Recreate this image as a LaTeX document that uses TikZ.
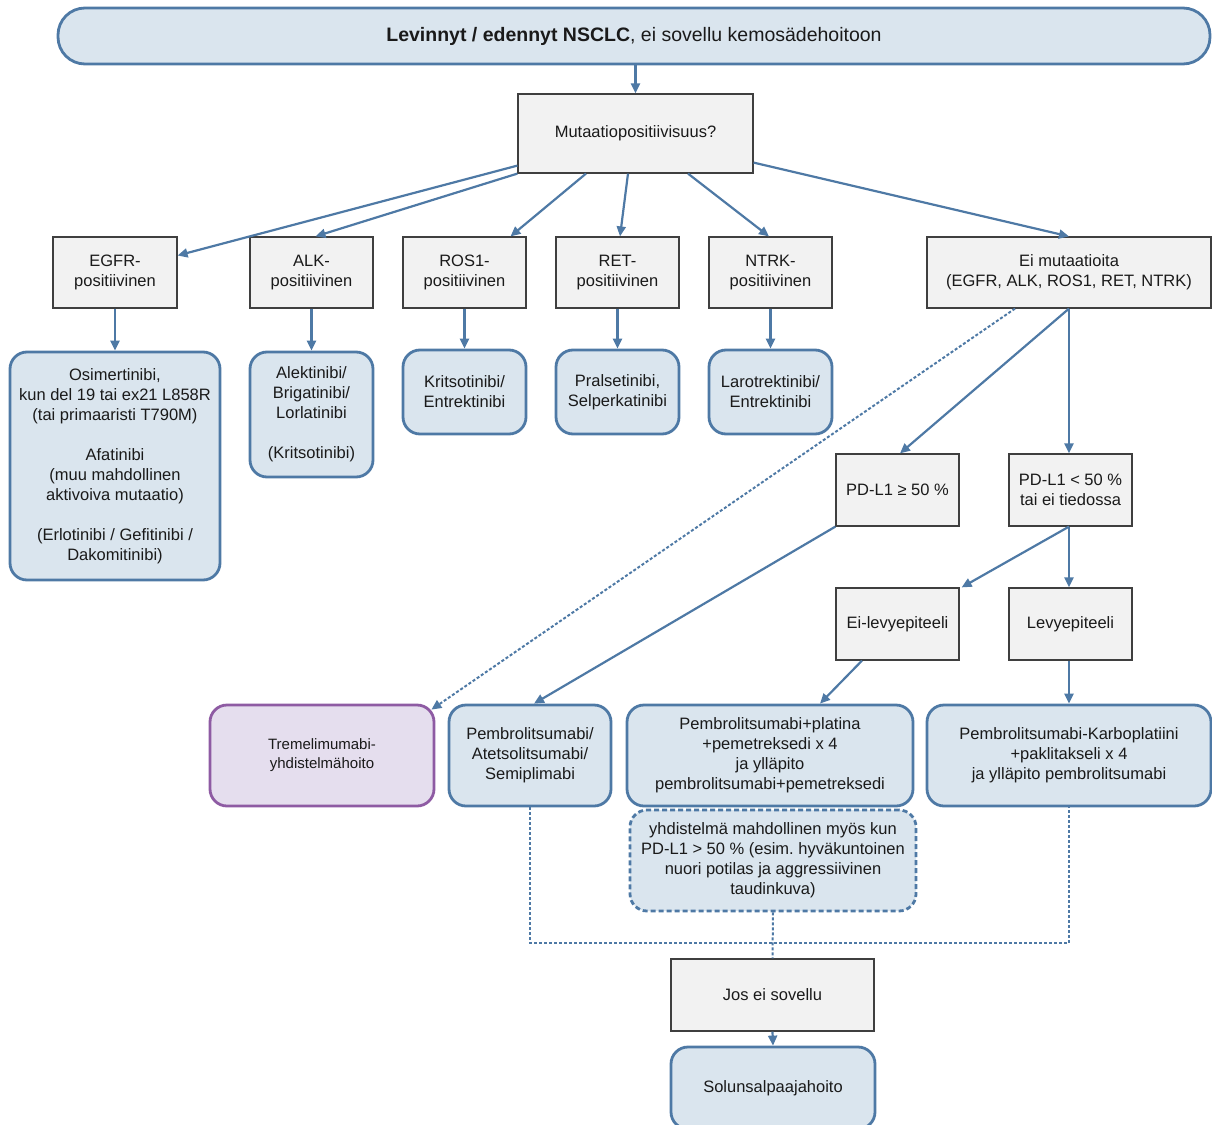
\documentclass[tikz,border=0pt]{standalone}
\usepackage{fontspec}
\setmainfont{Liberation Sans}
\usetikzlibrary{arrows.meta,calc}
\definecolor{bl}{HTML}{4E79A5}
\definecolor{blfill}{HTML}{DAE5EE}
\definecolor{grfill}{HTML}{F2F2F2}
\definecolor{grline}{HTML}{3F3F3F}
\definecolor{pu}{HTML}{8E5BA3}
\definecolor{pufill}{HTML}{E5DEEE}
\definecolor{txt}{HTML}{1A1A1A}
\tikzset{
  graybox/.style={draw=grline, fill=grfill, line width=1.2pt, inner sep=0pt, align=center, text=txt},
  bluebox/.style={draw=bl, fill=blfill, line width=2.8pt, rounded corners=17pt, inner sep=0pt, align=center, text=txt},
  purplebox/.style={draw=pu, fill=pufill, line width=2.8pt, rounded corners=17pt, inner sep=0pt, align=center, text=txt},
  dashbox/.style={draw=bl, fill=blfill, line width=2.8pt, rounded corners=17pt, dash pattern=on 5pt off 3pt, inner sep=0pt, align=center, text=txt},
  conn/.style={draw=bl, line width=2.2pt, -{Triangle[length=10pt,width=9pt]}},
  dotline/.style={draw=bl, line width=2pt, dash pattern=on 3pt off 2pt},
  dotarrow/.style={draw=bl, line width=2pt, dash pattern=on 3pt off 2pt, -{Triangle[length=10pt,width=9pt]}},
}
\begin{document}
\begin{tikzpicture}[x=1pt,y=-1pt,font=\fontsize{16.5}{20}\selectfont]
\useasboundingbox (0,0) rectangle (1212,1124);

% top
\node[bluebox, rounded corners=27pt, minimum width=1152pt, minimum height=56pt, font=\fontsize{19.5}{22}\selectfont] (top) at (634,36)
  {\textbf{Levinnyt / edennyt NSCLC}, ei sovellu kemosädehoitoon};
\node[graybox, minimum width=235pt, minimum height=79pt] (mut) at (635.5,133.5) {Mutaatiopositiivisuus?};

% row 2
\node[graybox, minimum width=124pt, minimum height=71pt] (egfr) at (115,272.5) {EGFR-\\positiivinen};
\node[graybox, minimum width=123pt, minimum height=71pt] (alk) at (311.5,272.5) {ALK-\\positiivinen};
\node[graybox, minimum width=123pt, minimum height=71pt] (ros) at (464.5,272.5) {ROS1-\\positiivinen};
\node[graybox, minimum width=123pt, minimum height=71pt] (ret) at (617.5,272.5) {RET-\\positiivinen};
\node[graybox, minimum width=123pt, minimum height=71pt] (ntrk) at (770.5,272.5) {NTRK-\\positiivinen};
\node[graybox, minimum width=284pt, minimum height=71pt] (ei) at (1069,272.5) {Ei mutaatioita\\(EGFR, ALK, ROS1, RET, NTRK)};

% row 3
\node[bluebox, minimum width=210pt, minimum height=228pt] (osi) at (115,466)
  {Osimertinibi,\\kun del 19 tai ex21 L858R\\(tai primaaristi T790M)\\[20pt]Afatinibi\\(muu mahdollinen\\aktivoiva mutaatio)\\[20pt](Erlotinibi / Gefitinibi /\\Dakomitinibi)};
\node[bluebox, minimum width=123pt, minimum height=125pt] (alek) at (311.5,414.5)
  {Alektinibi/\\Brigatinibi/\\Lorlatinibi\\[20pt](Kritsotinibi)};
\node[bluebox, minimum width=123pt, minimum height=84pt] (krit) at (464.5,392) {Kritsotinibi/\\Entrektinibi};
\node[bluebox, minimum width=123pt, minimum height=84pt] (pral) at (617.5,392) {Pralsetinibi,\\Selperkatinibi};
\node[bluebox, minimum width=123pt, minimum height=84pt] (laro) at (770.5,392) {Larotrektinibi/\\Entrektinibi};

% PD-L1
\node[graybox, minimum width=123pt, minimum height=72pt] (pd1) at (897.5,490) {PD-L1 ≥ 50 \%};
\node[graybox, minimum width=123pt, minimum height=72pt] (pd2) at (1070.5,490) {PD-L1 < 50 \%\\tai ei tiedossa};
\node[graybox, minimum width=123pt, minimum height=72pt] (eil) at (897.5,624) {Ei-levyepiteeli};
\node[graybox, minimum width=123pt, minimum height=72pt] (lev) at (1070.5,624) {Levyepiteeli};

% bottom row
\node[purplebox, minimum width=224pt, minimum height=101pt, font=\fontsize{15}{19}\selectfont] (trem) at (322,755.5)
  {Tremelimumabi-\\yhdistelmähoito};
\node[bluebox, minimum width=162pt, minimum height=101pt] (pemb) at (530,755.5)
  {Pembrolitsumabi/\\Atetsolitsumabi/\\Semiplimabi};
\node[bluebox, minimum width=286pt, minimum height=101pt] (plat) at (770,755.5)
  {Pembrolitsumabi+platina\\+pemetreksedi x 4\\ja ylläpito\\pembrolitsumabi+pemetreksedi};
\node[bluebox, minimum width=284pt, minimum height=101pt] (karb) at (1069,755.5)
  {Pembrolitsumabi-Karboplatiini\\+paklitakseli x 4\\ja ylläpito pembrolitsumabi};
\node[dashbox, minimum width=286pt, minimum height=101pt] (dash) at (773,860.5)
  {yhdistelmä mahdollinen myös kun\\PD-L1 > 50 \% (esim.\ hyväkuntoinen\\nuori potilas ja aggressiivinen\\taudinkuva)};

\node[graybox, minimum width=203pt, minimum height=72pt] (jos) at (772.5,995) {Jos ei sovellu};
\node[bluebox, minimum width=204pt, minimum height=82pt] (sol) at (773,1088) {Solunsalpaajahoito};

% connectors
\draw[conn] (mut.north |- top.south) -- (mut.north);
\draw[conn] ($(mut.south west)+(0,-8)$) -- ($(egfr.east)+(0,-17)$);
\draw[conn] (mut.south west) -- ($(alk.north)+(4,0)$);
\draw[conn] ($(mut.south)+(-49.5,0)$) -- ($(ros.north)+(46,0)$);
\draw[conn] ($(mut.south)+(-7.5,0)$) -- ($(ret.north)+(2.5,0)$);
\draw[conn] ($(mut.south)+(52.5,0)$) -- ($(ntrk.north)+(-1.5,0)$);
\draw[conn] ($(mut.south east)+(0,-11)$) -- (ei.north);

\draw[conn] (egfr.south) -- (osi.north);
\draw[conn] (alk.south) -- (alek.north);
\draw[conn] (ros.south) -- (krit.north);
\draw[conn] (ret.south) -- (pral.north);
\draw[conn] (ntrk.south) -- (laro.north);

\draw[conn] (ei.south) -- ($(pd1.north)+(2.5,0)$);
\draw[conn] (ei.south) -- (ei.south |- pd2.north);
\draw[dotarrow] ($(ei.south)+(-54,0)$) -- ($(trem.north east)+(-4,6)$);

\draw[conn] (pd1.south west) -- ($(pemb.north)+(4,0)$);
\draw[conn] ($(pd2.south)+(-1.5,0)$) -- ($(eil.north east)+(2,0)$);
\draw[conn] ($(pd2.south)+(-1.5,0)$) -- ($(lev.north)+(-1.5,0)$);
\draw[conn] ($(eil.south)+(-35.5,0)$) -- ($(plat.north)+(50,0)$);
\draw[conn] ($(lev.south)+(-1.5,0)$) -- (karb.north);

\coordinate (jn) at (772.5,943);
\draw[dotline] (pemb.south) -- (pemb.south |- jn) -- (karb.south |- jn) -- (karb.south);
\draw[dotline] (dash.south) -- (jos.north);
\draw[conn] (jos.south) -- (sol.north);
\end{tikzpicture}
\end{document}
